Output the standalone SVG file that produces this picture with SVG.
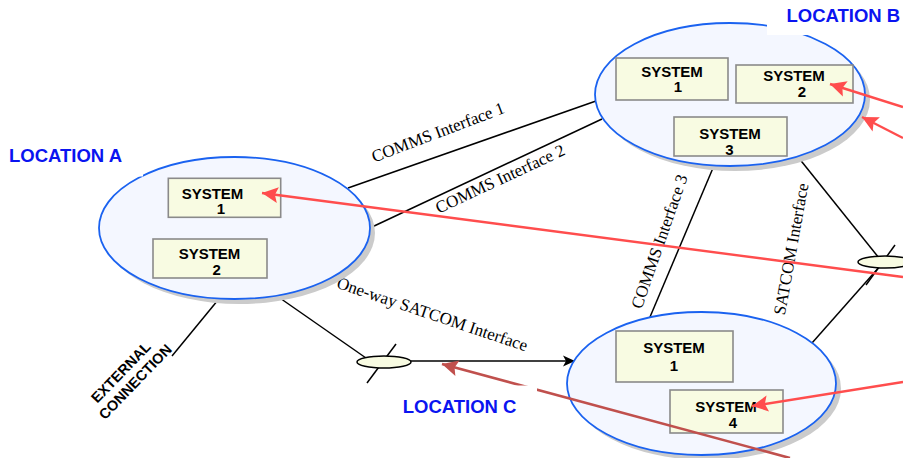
<svg xmlns="http://www.w3.org/2000/svg" width="903" height="458" viewBox="0 0 903 458">
<style>
.loc{fill:#f4f7ff;stroke:#1a62f0;stroke-width:1.8}
.shadow{fill:#cbcbcb}
.box{fill:#f8fbe2;stroke:#8a8a8a;stroke-width:1.6}
.st{font-family:"Liberation Sans",Arial,sans-serif;font-weight:bold;font-size:15px;fill:#000;text-anchor:middle}
.lbl{font-family:"Liberation Sans",Arial,sans-serif;font-weight:bold;font-size:18.5px;fill:#0a14f0}
.ifc{font-family:"Liberation Serif","Times New Roman",serif;font-size:17px;fill:#000;text-anchor:middle}
.ext{font-family:"Liberation Sans",Arial,sans-serif;font-weight:bold;font-size:14.5px;fill:#000;text-anchor:middle}
.ln{stroke:#000;stroke-width:1.5;fill:none}
.sat{fill:#f8fbe2;stroke:#000;stroke-width:1.5}
.red{stroke:#ff4d4d;stroke-width:2.4;fill:none}
.dred{stroke:#c0504d;stroke-width:2.6;fill:none}
</style>
<defs>
<marker id="ab" markerUnits="userSpaceOnUse" markerWidth="14" markerHeight="14" viewBox="0 0 14 14" refX="13" refY="7" orient="auto">
<path d="M1,1.5 L13,7 L1,12.5 L4,7 z" fill="#000"/>
</marker>
<marker id="ar" markerUnits="userSpaceOnUse" markerWidth="18" markerHeight="18" viewBox="0 0 18 18" refX="17" refY="9" orient="auto">
<path d="M1,1 L17,9 L1,17 L4,9 z" fill="#ff4d4d"/>
</marker>
<marker id="adr" markerUnits="userSpaceOnUse" markerWidth="18" markerHeight="18" viewBox="0 0 18 18" refX="17" refY="9" orient="auto">
<path d="M1,1 L17,9 L1,17 L4,9 z" fill="#c0504d"/>
</marker>
</defs>
<rect width="903" height="458" fill="#fff"/>

<g id="connectors">
<line class="ln" x1="348" y1="188" x2="596" y2="101"/>
<line class="ln" x1="372" y1="227" x2="602" y2="119"/>
<line class="ln" x1="713" y1="168" x2="650" y2="317"/>
<line class="ln" x1="798" y1="157" x2="879" y2="258"/>
<line class="ln" x1="812" y1="343" x2="881" y2="265"/>
<line class="ln" x1="895" y1="245" x2="866" y2="285"/>
<line class="ln" x1="277" y1="296" x2="366" y2="358"/>
<line class="ln" x1="396" y1="344" x2="367" y2="383"/>
<line class="ln" x1="218" y1="300" x2="172" y2="356"/>
<line class="ln" x1="411" y1="361" x2="575" y2="361" marker-end="url(#ab)"/>
<text class="ifc" transform="translate(440,137.5) rotate(-20.8)">COMMS Interface 1</text>
<text class="ifc" transform="translate(502.5,184) rotate(-25)">COMMS Interface 2</text>
<text class="ifc" transform="translate(430.5,319.5) rotate(18.6)">One-way SATCOM Interface</text>
<text class="ifc" transform="translate(664.7,243.3) rotate(-70.8)">COMMS Interface 3</text>
<text class="ifc" transform="translate(796.7,250) rotate(-79.8)">SATCOM Interface</text>
<text class="ext" transform="translate(128,377) rotate(-46)"><tspan x="-1.5" y="-3.4">EXTERNAL</tspan><tspan x="1.5" y="13.6">CONNECTION</tspan></text>
<ellipse class="sat" cx="384" cy="362" rx="27" ry="6"/>
<ellipse class="sat" cx="885" cy="262" rx="27" ry="6"/>
</g>

<g id="location-a">
<ellipse class="shadow" cx="239.5" cy="233" rx="135.5" ry="71"/>
<ellipse class="loc" cx="234.5" cy="228" rx="135.5" ry="71"/>
<rect x="0" y="140" width="143" height="36.5" fill="#fff"/>
<text class="lbl" x="9" y="161.7">LOCATION A</text>
</g>
<g id="a-system-1">
<rect class="box" x="168.3" y="178.3" width="112.4" height="39"/>
<text class="st"><tspan x="212.5" y="198.6">SYSTEM</tspan><tspan x="221" y="214.2">1</tspan></text>
</g>
<g id="a-system-2">
<rect class="box" x="153" y="239" width="114" height="39"/>
<text class="st"><tspan x="209.5" y="259">SYSTEM</tspan><tspan x="216.7" y="275">2</tspan></text>
</g>

<g id="location-b">
<ellipse class="shadow" cx="735" cy="99.5" rx="135" ry="71.5"/>
<ellipse class="loc" cx="730" cy="94.5" rx="135" ry="71.5"/>
<rect x="767" y="0" width="136" height="35" fill="#fff"/>
<text class="lbl" x="786.5" y="21.7">LOCATION B</text>
</g>
<g id="b-system-1">
<rect class="box" x="616" y="58" width="112" height="42"/>
<text class="st"><tspan x="672" y="76.7">SYSTEM</tspan><tspan x="678" y="92.3">1</tspan></text>
</g>
<g id="b-system-2">
<rect class="box" x="736" y="65" width="117" height="38"/>
<text class="st"><tspan x="794" y="81">SYSTEM</tspan><tspan x="802" y="96.7">2</tspan></text>
</g>
<g id="b-system-3">
<rect class="box" x="674" y="117" width="113" height="39"/>
<text class="st"><tspan x="730" y="139.3">SYSTEM</tspan><tspan x="729.5" y="154.9">3</tspan></text>
</g>

<g id="location-c">
<ellipse class="shadow" cx="706.5" cy="388.5" rx="134.5" ry="71.5"/>
<ellipse class="loc" cx="701.5" cy="383.5" rx="134.5" ry="71.5"/>
</g>
<g id="c-system-1">
<rect class="box" x="616" y="331" width="117" height="51"/>
<text class="st"><tspan x="674" y="353.3">SYSTEM</tspan><tspan x="674" y="371">1</tspan></text>
</g>
<g id="c-system-4">
<rect class="box" x="670" y="390" width="113" height="43"/>
<text class="st"><tspan x="726" y="411.7">SYSTEM</tspan><tspan x="733" y="428.3">4</tspan></text>
</g>

<g id="annotations">
<line class="red" x1="903" y1="277" x2="262" y2="193" marker-end="url(#ar)"/>
<line class="red" x1="903" y1="107" x2="830" y2="84" marker-end="url(#ar)"/>
<line class="red" x1="903" y1="138" x2="862" y2="117" marker-end="url(#ar)"/>
<line class="red" x1="903" y1="382" x2="752" y2="406" marker-end="url(#ar)"/>
<line class="dred" x1="790" y1="458" x2="442" y2="364" marker-end="url(#adr)"/>
<rect x="455" y="385.5" width="82" height="35" fill="#fff"/>
<text class="lbl" x="402.7" y="413.3">LOCATION C</text>
</g>
</svg>
